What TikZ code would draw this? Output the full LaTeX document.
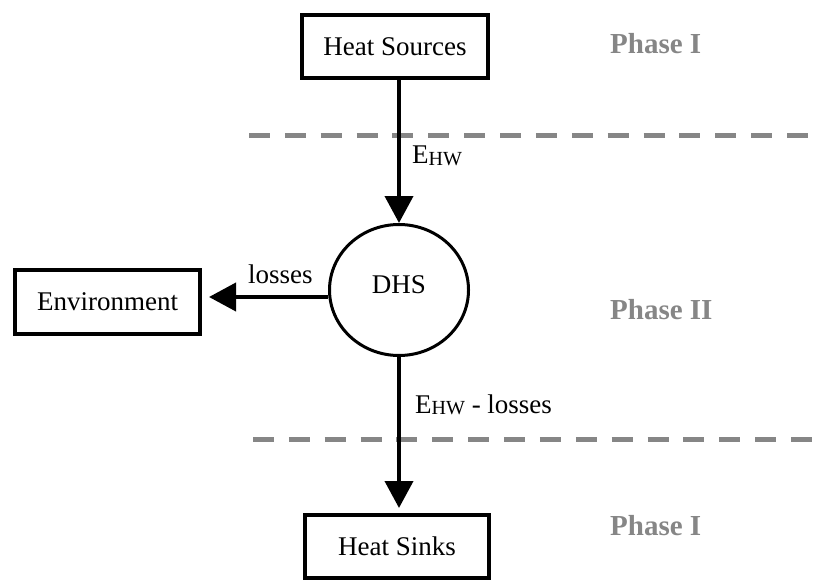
\documentclass[tikz,border=0pt]{standalone}
\usepackage{fontspec}
\setmainfont{Liberation Serif}
\usetikzlibrary{arrows.meta,shapes.geometric}
\definecolor{phasegray}{RGB}{134,134,134}
\newcommand\lowsub[1]{\raisebox{-1.5pt}{\fontsize{20}{22}\selectfont #1}}
\tikzset{
  txt/.style={font=\fontsize{27}{32}\selectfont},
  blockbox/.style={draw, line width=4pt, inner sep=0pt, txt},
  flow/.style={line width=4pt, -{Triangle[width=28pt,length=27pt]}},
  divider/.style={draw=phasegray, line width=5pt, dash pattern=on 21pt off 14.87pt},
  phase/.style={anchor=base west, inner sep=0pt, text=phasegray,
    font=\fontsize{29}{34}\selectfont\bfseries},
  flowlabel/.style={anchor=base west, inner sep=0pt, txt}
}
\begin{document}
\begin{tikzpicture}[x=1pt,y=-1pt]
  \useasboundingbox (0,0) rectangle (821,580);

  % phase dividers
  \draw[divider] (249,136) -- (808,136);
  \draw[divider] (253,439) -- (812,439);

  % blocks
  \node[blockbox, minimum width=186pt, minimum height=63pt] (hs) at (395,46.5) {Heat Sources};
  \node[draw, ellipse, line width=3pt, minimum width=139pt, minimum height=131pt,
        inner sep=0pt, text depth=10pt, txt] (dhs) at (399,290) {DHS};
  \node[blockbox, minimum width=185pt, minimum height=64pt] (env) at (107.5,302) {Environment};
  \node[blockbox, minimum width=184pt, minimum height=63pt] (hk) at (397,546) {Heat Sinks};

  % energy flows
  \draw[flow] (hs.south -| dhs.north) -- (dhs.north);
  \draw[flow, shorten >=7pt] ([yshift=-7pt]dhs.west) -- ([yshift=-7pt]dhs.west -| env.east);
  \draw[flow, shorten >=4.5pt] (dhs.south) -- (dhs.south |- hk.north);

  % flow labels
  \node[flowlabel] (ehw) at (412,164) {E\lowsub{HW}};
  \node[flowlabel] (loss) at (248,283) {losses};
  \node[flowlabel] (ehwloss) at (415,413) {E\lowsub{HW} - losses};

  % phase labels
  \node[phase] (p1top) at (610,54) {Phase I};
  \node[phase] (p2) at (610,319) {Phase II};
  \node[phase] (p1bot) at (610,535) {Phase I};
\end{tikzpicture}
\end{document}
